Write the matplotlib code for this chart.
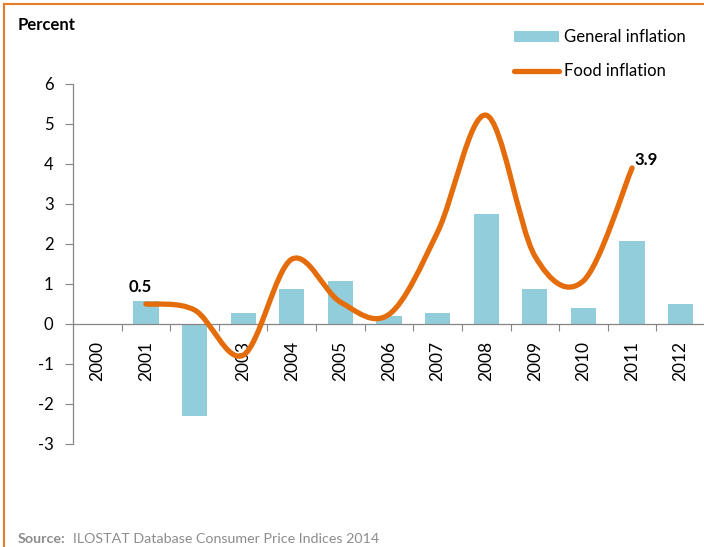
import numpy as np
import matplotlib
matplotlib.use('Agg')
import matplotlib.pyplot as plt
from matplotlib.path import Path
from matplotlib.patches import PathPatch, Patch
from matplotlib.lines import Line2D

# data
years = ['2000', '2001', '2002', '2003', '2004', '2005', '2006',
         '2007', '2008', '2009', '2010', '2011', '2012']
general = [np.nan, 0.57, -2.3, 0.28, 0.87, 1.07, 0.19, 0.28, 2.76, 0.87, 0.39, 2.07, 0.49]
food_years = ['2001', '2002', '2003', '2004', '2005', '2006',
              '2007', '2008', '2009', '2010', '2011']
food = [0.5, 0.35, -0.78, 1.62, 0.55, 0.24, 2.3, 5.22, 1.7, 1.08, 3.9]

bar_col = '#92CDDC'
line_col = '#E46C0A'
axis_col = '#868686'

plt.rcParams['font.family'] = ['Lato', 'DejaVu Sans']
plt.rcParams['axes.unicode_minus'] = False

W, H = 704, 547
fig = plt.figure(figsize=(W / 100, H / 100), dpi=100)
ax = fig.add_axes([73 / W, (H - 444) / H, 632 / W, 360 / H])

xpos = np.arange(len(years))
ax.bar(xpos, general, width=0.52, color=bar_col, zorder=2)

# smoothed food line (Catmull-Rom style bezier like excel "smoothed line")
fx = np.array([years.index(y) for y in food_years], dtype=float)
pts = np.column_stack([fx, food])
ext = np.vstack([pts[0], pts, pts[-1]])
verts = [tuple(pts[0])]
codes = [Path.MOVETO]
for i in range(len(pts) - 1):
    p0, p1, p2, p3 = ext[i], ext[i + 1], ext[i + 2], ext[i + 3]
    c1 = p1 + (p2 - p0) / 6.0
    c2 = p2 - (p3 - p1) / 6.0
    verts += [tuple(c1), tuple(c2), tuple(p2)]
    codes += [Path.CURVE4] * 3
ax.add_patch(PathPatch(Path(verts, codes), fill=False, edgecolor=line_col,
                       lw=3.8, capstyle='round', joinstyle='round', zorder=3))

# data labels
ax.annotate('0.5', (fx[0], food[0]), xytext=(-6, 17), textcoords='offset pixels',
            ha='center', va='center', fontsize=12, fontweight='bold')
ax.annotate('3.9', (fx[-1], food[-1]), xytext=(14, 8), textcoords='offset pixels',
            ha='center', va='center', fontsize=12, fontweight='bold')

ax.set_xlim(-0.5, len(years) - 0.5)
ax.set_ylim(-3, 6)
ax.set_yticks(range(-3, 7))

# ticks at category boundaries, labels at centres
ax.set_xticks(np.arange(0.5, len(years) - 1, 1.0))
ax.set_xticklabels([])
ax.set_xticks(xpos, minor=True)
ax.set_xticklabels(years, minor=True)
ax.tick_params(axis='x', which='major', length=5, width=0.8, color=axis_col, direction='out')
ax.tick_params(axis='x', which='minor', length=0, pad=12, labelrotation=90, labelsize=12.5)
ax.tick_params(axis='y', length=6, width=0.8, color=axis_col, pad=8, labelsize=12)

for s in ['top', 'right']:
    ax.spines[s].set_visible(False)
ax.spines['bottom'].set_position(('data', 0))
for s in ['left', 'bottom']:
    ax.spines[s].set_color(axis_col)
    ax.spines[s].set_linewidth(0.9)

handles = [Patch(facecolor=bar_col, edgecolor='none'),
           Line2D([], [], color=line_col, lw=3.8, solid_capstyle='round')]
fig.legend(handles, ['General inflation', 'Food inflation'], loc='upper left',
           bbox_to_anchor=(514 / W, 1 - 29 / H), bbox_transform=fig.transFigure,
           frameon=False, fontsize=12, borderpad=0, borderaxespad=0,
           handlelength=2.7, handleheight=0.66, handletextpad=0.28, labelspacing=1.1)

fig.text(18 / W, 1 - 25 / H, 'Percent', fontsize=12, fontweight='bold', va='center')
fig.text(18 / W, 1 - 539 / H, 'Source:', fontsize=10.3, fontweight='bold', color='#8C8C8C', va='center')
fig.text(73 / W, 1 - 539 / H, 'ILOSTAT Database Consumer Price Indices 2014', fontsize=10.3,
         color='#8C8C8C', va='center')

# orange frame (right and bottom cropped off)
fig.add_artist(Line2D([4 / W, 4 / W], [0, 1 - 4 / H], color='#E97B2A', lw=1.5, transform=fig.transFigure))
fig.add_artist(Line2D([4 / W, 1], [1 - 4 / H, 1 - 4 / H], color='#E97B2A', lw=1.5, transform=fig.transFigure))

fig.savefig('out.png', dpi=100)
